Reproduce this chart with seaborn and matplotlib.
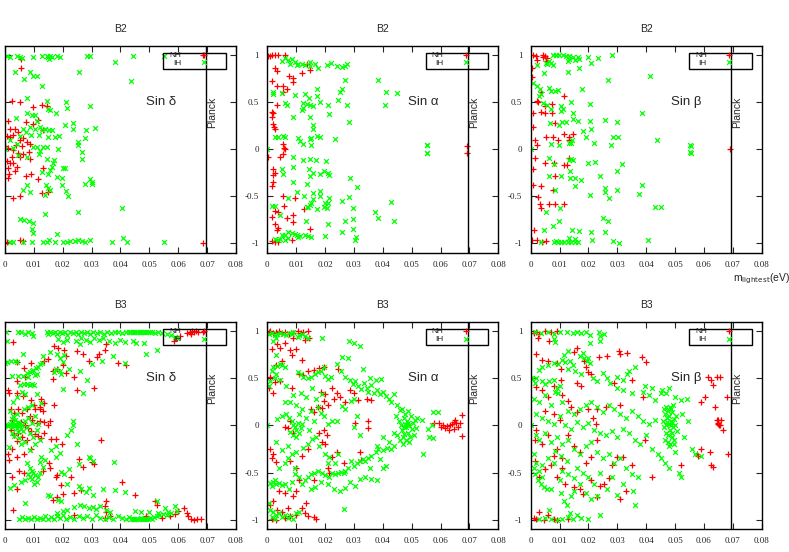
import matplotlib
matplotlib.use("Agg")
import matplotlib.pyplot as plt
import matplotlib.patches as mpatches
import seaborn as sns
import pandas as pd

sns.set_style("ticks")
plt.rcParams["font.family"] = ["Liberation Sans", "DejaVu Sans"]

# m_lightest (eV) vs sine of phase, NH = red +, IH = green x
b2_delta_nh = [
    (0.0054, 0.955), (0.0054, 0.86), (0.0023, 0.515), (0.0052, 0.505), (0.0096, 0.445),
    (0.0127, 0.465), (0.0144, 0.46), (0.0116, 0.31), (0.0012, 0.30), (0.0072, 0.29),
    (0.0098, 0.265), (0.0133, 0.20), (0.0035, 0.22), (0.0017, 0.21), (0.0046, 0.185),
    (0.0029, 0.15), (0.0006, 0.14), (0.0017, 0.125), (0.0052, 0.10), (0.0061, 0.115),
    (0.0075, 0.08), (0.0087, 0.06), (0.0038, 0.045), (0.0058, 0.03), (0.0, 0.03),
    (0.0012, 0.01), (0.0027, -0.01), (0.0046, -0.04), (0.0064, -0.05), (0.0084, -0.025),
    (0.0023, -0.08), (0.0052, -0.085), (0.0087, -0.10), (0.0006, -0.13), (0.0017, -0.15),
    (0.0029, -0.145), (0.0012, -0.20), (0.0040, -0.19), (0.0015, -0.26), (0.0012, -0.31),
    (0.0035, -0.23), (0.0072, -0.285), (0.0089, -0.26), (0.0133, -0.195), (0.0116, -0.32),
    (0.0150, -0.45), (0.0127, -0.47), (0.0052, -0.50), (0.0027, -0.52), (0.0052, -0.96),
    (0.0061, -0.98), (0.0006, -0.99), (0.0687, -1.0), (0.0687, 1.0),
]
b2_delta_ih = [
    (0.0006, 0.99), (0.0017, 0.98), (0.0043, 0.99), (0.0052, 0.98), (0.0058, 0.97),
    (0.0098, 0.98), (0.0127, 0.99), (0.0144, 0.99), (0.0150, 0.98), (0.0156, 0.99),
    (0.0162, 0.98), (0.0180, 0.99), (0.0190, 0.98), (0.0283, 0.99), (0.0294, 0.99),
    (0.0445, 0.99), (0.0549, 0.99), (0.0152, 0.955), (0.0035, 0.82), (0.0087, 0.82),
    (0.0098, 0.78), (0.0110, 0.78), (0.0066, 0.75), (0.0127, 0.67), (0.0258, 0.82),
    (0.0381, 0.93), (0.0435, 0.72), (0.0077, 0.54), (0.0144, 0.515), (0.0211, 0.505),
    (0.0214, 0.44), (0.0294, 0.46), (0.0150, 0.43), (0.0156, 0.415), (0.0177, 0.39),
    (0.0077, 0.38), (0.0092, 0.36), (0.0038, 0.33), (0.0104, 0.36), (0.0110, 0.30),
    (0.0234, 0.28), (0.0208, 0.255), (0.0237, 0.22), (0.0312, 0.23), (0.0280, 0.20),
    (0.0064, 0.21), (0.0072, 0.185), (0.0087, 0.24), (0.0104, 0.22), (0.0121, 0.24),
    (0.0127, 0.20), (0.0139, 0.22), (0.0154, 0.20), (0.0162, 0.20), (0.0173, 0.13),
    (0.0188, 0.14), (0.0150, 0.13), (0.0052, 0.14), (0.0089, 0.15), (0.0119, 0.15),
    (0.0277, 0.115), (0.0254, 0.08), (0.0254, 0.045), (0.0017, 0.10), (0.0040, 0.06),
    (0.0027, 0.01), (0.0, 0.0), (0.0098, 0.02), (0.0112, 0.02), (0.0133, 0.02),
    (0.0144, 0.02), (0.0121, -0.015), (0.0119, -0.05), (0.0185, 0.0), (0.0266, -0.035),
    (0.0266, -0.10), (0.0046, -0.06), (0.0075, -0.08), (0.0144, -0.10), (0.0171, -0.12),
    (0.0168, -0.15), (0.0162, -0.19), (0.0156, -0.22), (0.0202, -0.20), (0.0208, -0.20),
    (0.0127, -0.24), (0.0150, -0.26), (0.0179, -0.30), (0.0196, -0.31), (0.0294, -0.32),
    (0.0303, -0.345), (0.0303, -0.37), (0.0277, -0.37), (0.0196, -0.38), (0.0075, -0.38),
    (0.0141, -0.38), (0.0150, -0.415), (0.0156, -0.43), (0.0064, -0.43), (0.0087, -0.45),
    (0.0139, -0.49), (0.0219, -0.50), (0.0211, -0.44), (0.0254, -0.67), (0.0404, -0.63),
    (0.0139, -0.69), (0.0052, -0.745), (0.0066, -0.75), (0.0084, -0.76), (0.0096, -0.78),
    (0.0092, -0.85), (0.0098, -0.89), (0.0181, -0.905), (0.0154, -0.96), (0.0294, -0.96),
    (0.0410, -0.94), (0.0017, -0.99), (0.0027, -0.99), (0.0064, -0.99), (0.0095, -0.99),
    (0.0133, -0.99), (0.0144, -0.99), (0.0173, -0.99), (0.0202, -0.99), (0.0214, -0.99),
    (0.0225, -0.98), (0.0243, -0.98), (0.0254, -0.97), (0.0266, -0.98), (0.0277, -0.99),
    (0.0370, -0.99), (0.0422, -0.99), (0.0549, -0.99),
]

b2_alpha_nh = [
    (0.0003, 0.99), (0.0015, 1.0), (0.0027, 1.0), (0.0038, 1.0), (0.0061, 1.0), (0.0009, 0.99),
    (0.0136, 0.91), (0.0148, 0.84), (0.0119, 0.805), (0.0027, 0.86), (0.0035, 0.83),
    (0.0076, 0.78), (0.0090, 0.76), (0.0015, 0.73), (0.0088, 0.71), (0.0035, 0.67),
    (0.0053, 0.67), (0.0069, 0.635), (0.0055, 0.61), (0.0032, 0.47), (0.0015, 0.40),
    (0.0018, 0.38), (0.0015, 0.34), (0.0021, 0.265), (0.0023, 0.24), (0.0027, 0.21),
    (0.0053, 0.06), (0.0058, 0.01), (0.0062, 0.0), (0.0053, -0.05), (0.0044, -0.08),
    (0.0003, -0.08), (0.0018, -0.21), (0.0027, -0.25), (0.0021, -0.27), (0.0021, -0.345),
    (0.0015, -0.39), (0.0053, -0.50), (0.0096, -0.52), (0.0058, -0.60), (0.0027, -0.66),
    (0.0038, -0.67), (0.0015, -0.72), (0.0069, -0.73), (0.0090, -0.70), (0.0090, -0.77),
    (0.0027, -0.79), (0.0032, -0.86), (0.0038, -0.84), (0.0148, -0.85), (0.0127, -0.64),
    (0.0015, -0.98), (0.0027, -0.985), (0.0038, -0.99), (0.0084, -0.97), (0.0693, 0.03),
    (0.0693, -0.04),
]
b2_alpha_ih = [
    (0.0050, 0.94), (0.0061, 0.965), (0.0073, 0.947), (0.0084, 0.954), (0.0096, 0.93),
    (0.0107, 0.91), (0.0119, 0.91), (0.0130, 0.89), (0.0148, 0.93), (0.0165, 0.91),
    (0.0079, 0.91), (0.0102, 0.89), (0.0206, 0.90), (0.0219, 0.92), (0.0240, 0.887),
    (0.0258, 0.87), (0.0269, 0.883), (0.0277, 0.91), (0.0177, 0.86), (0.0148, 0.883),
    (0.0269, 0.735), (0.0385, 0.735), (0.0171, 0.645), (0.0258, 0.635), (0.0252, 0.61),
    (0.0411, 0.61), (0.0448, 0.60), (0.0021, 0.61), (0.0018, 0.59), (0.0050, 0.60),
    (0.0096, 0.575), (0.0130, 0.59), (0.0173, 0.565), (0.0145, 0.54), (0.0182, 0.505),
    (0.0246, 0.52), (0.0122, 0.495), (0.0136, 0.48), (0.0148, 0.47), (0.0159, 0.46),
    (0.0061, 0.495), (0.0067, 0.47), (0.0211, 0.47), (0.0277, 0.47), (0.0408, 0.47),
    (0.0125, 0.435), (0.0119, 0.415), (0.0215, 0.375), (0.0090, 0.34), (0.0148, 0.345),
    (0.0284, 0.29), (0.0157, 0.255), (0.0159, 0.21), (0.0027, 0.125), (0.0038, 0.13),
    (0.0053, 0.14), (0.0061, 0.125), (0.0107, 0.115), (0.0113, 0.09), (0.0125, 0.055),
    (0.0148, 0.105), (0.0153, 0.115), (0.0150, 0.05), (0.0171, 0.14), (0.0181, 0.125),
    (0.0234, 0.105), (0.0, 0.0), (0.0090, -0.085), (0.0125, -0.12), (0.0148, -0.10),
    (0.0169, -0.115), (0.0203, -0.13), (0.0050, -0.215), (0.0053, -0.26), (0.0090, -0.19),
    (0.0145, -0.215), (0.0159, -0.255), (0.0148, -0.285), (0.0181, -0.265), (0.0196, -0.23),
    (0.0215, -0.275), (0.0211, -0.25), (0.0286, -0.31), (0.0310, -0.40), (0.0090, -0.345),
    (0.0136, -0.37), (0.0102, -0.45), (0.0157, -0.47), (0.0127, -0.495), (0.0182, -0.44),
    (0.0182, -0.495), (0.0284, -0.505), (0.0215, -0.52), (0.0159, -0.53), (0.0153, -0.57),
    (0.0199, -0.575), (0.0211, -0.57), (0.0196, -0.61), (0.0206, -0.62), (0.0142, -0.61),
    (0.0148, -0.59), (0.0136, -0.61), (0.0173, -0.64), (0.0258, -0.55), (0.0298, -0.63),
    (0.0015, -0.60), (0.0027, -0.60), (0.0073, -0.52), (0.0044, -0.70), (0.0373, -0.67),
    (0.0427, -0.565), (0.0385, -0.735), (0.0439, -0.76), (0.0298, -0.745), (0.0269, -0.76),
    (0.0211, -0.80), (0.0134, -0.76), (0.0258, -0.885), (0.0298, -0.85), (0.0307, -0.93),
    (0.0303, -0.965), (0.0200, -0.92), (0.0050, -0.91), (0.0061, -0.91), (0.0073, -0.885),
    (0.0084, -0.89), (0.0096, -0.90), (0.0102, -0.91), (0.0113, -0.92), (0.0130, -0.91),
    (0.0142, -0.92), (0.0153, -0.93), (0.0027, -0.95), (0.0038, -0.97), (0.0044, -0.95),
    (0.0061, -0.96), (0.0073, -0.94), (0.0107, -0.93), (0.0552, 0.04), (0.0552, -0.045),
    (0.0554, 0.045), (0.0554, -0.04),
]

b2_beta_nh = [
    (0.0008, 1.0), (0.0018, 0.99), (0.0041, 1.0), (0.0050, 0.99), (0.0058, 0.965),
    (0.0041, 0.975), (0.0023, 0.945), (0.0053, 0.94), (0.0006, 0.86), (0.0006, 0.77),
    (0.0035, 0.61), (0.0023, 0.51), (0.0027, 0.50), (0.0074, 0.485), (0.0050, 0.455),
    (0.0117, 0.565), (0.0008, 0.385), (0.0035, 0.395), (0.0050, 0.385), (0.0074, 0.385),
    (0.0008, 0.235), (0.0085, 0.28), (0.0053, 0.135), (0.0076, 0.135), (0.0117, 0.165),
    (0.0146, 0.16), (0.0134, 0.135), (0.0093, 0.095), (0.0132, 0.095), (0.0015, 0.095),
    (0.0023, 0.04), (0.0015, -0.09), (0.0134, -0.09), (0.0050, -0.145), (0.0082, -0.145),
    (0.0117, -0.17), (0.0125, -0.17), (0.0008, -0.21), (0.0085, -0.29), (0.0008, -0.385),
    (0.0035, -0.395), (0.0076, -0.43), (0.0027, -0.51), (0.0032, -0.58), (0.0035, -0.62),
    (0.0064, -0.58), (0.0085, -0.58), (0.0117, -0.58), (0.0012, -0.86), (0.0006, -0.965),
    (0.0023, -0.96), (0.0039, -0.99), (0.0053, -0.98), (0.0690, 0.0),
]
b2_beta_ih = [
    (0.0076, 1.0), (0.0088, 1.0), (0.0099, 1.0), (0.0111, 1.0), (0.0123, 0.99),
    (0.0134, 0.99), (0.0146, 0.98), (0.0164, 0.98), (0.0199, 0.98), (0.0234, 0.97),
    (0.0280, 1.0), (0.0064, 0.94), (0.0053, 0.92), (0.0070, 0.92), (0.0134, 0.955),
    (0.0152, 0.95), (0.0169, 0.955), (0.0129, 0.94), (0.0210, 0.92), (0.0076, 0.89),
    (0.0023, 0.89), (0.0058, 0.91), (0.0047, 0.805), (0.0129, 0.82), (0.0167, 0.86),
    (0.0269, 0.74), (0.0412, 0.78), (0.0008, 0.70), (0.0023, 0.67), (0.0032, 0.645),
    (0.0064, 0.655), (0.0070, 0.62), (0.0085, 0.62), (0.0093, 0.625), (0.0179, 0.645),
    (0.0035, 0.585), (0.0029, 0.565), (0.0043, 0.49), (0.0058, 0.465), (0.0070, 0.43),
    (0.0105, 0.455), (0.0111, 0.425), (0.0105, 0.405), (0.0140, 0.50), (0.0148, 0.385),
    (0.0205, 0.48), (0.0386, 0.385), (0.0067, 0.28), (0.0097, 0.26), (0.0109, 0.29),
    (0.0123, 0.29), (0.0146, 0.325), (0.0164, 0.305), (0.0205, 0.305), (0.0257, 0.315),
    (0.0298, 0.29), (0.0181, 0.195), (0.0208, 0.21), (0.0193, 0.135), (0.0284, 0.135),
    (0.0304, 0.13), (0.0144, 0.10), (0.0132, 0.065), (0.0140, 0.065), (0.0070, 0.06),
    (0.0097, 0.04), (0.0218, 0.065), (0.0277, 0.05), (0.0436, 0.10), (0.0, 0.0),
    (0.0064, -0.095), (0.0082, -0.155), (0.0132, -0.11), (0.0140, -0.10), (0.0146, -0.12),
    (0.0199, -0.145), (0.0222, -0.135), (0.0315, -0.155), (0.0064, -0.29), (0.0105, -0.28),
    (0.0137, -0.235), (0.0137, -0.31), (0.0155, -0.31), (0.0175, -0.325), (0.0240, -0.285),
    (0.0298, -0.235), (0.0152, -0.39), (0.0085, -0.43), (0.0257, -0.415), (0.0257, -0.455),
    (0.0298, -0.43), (0.0207, -0.485), (0.0272, -0.515), (0.0386, -0.385), (0.0374, -0.48),
    (0.0102, -0.62), (0.0053, -0.67), (0.0249, -0.73), (0.0269, -0.765), (0.0097, -0.76),
    (0.0076, -0.82), (0.0429, -0.61), (0.0452, -0.615), (0.0047, -0.86), (0.0144, -0.855),
    (0.0169, -0.865), (0.0210, -0.88), (0.0257, -0.88), (0.0134, -0.945), (0.0152, -0.955),
    (0.0214, -0.965), (0.0286, -0.98), (0.0307, -0.995), (0.0405, -0.965), (0.0035, -0.99),
    (0.0082, -0.99), (0.0093, -0.99), (0.0105, -0.99), (0.0117, -0.99), (0.0128, -0.99),
    (0.0140, -0.99), (0.0152, -0.99), (0.0164, -0.99), (0.0088, -0.98), (0.0555, 0.035),
    (0.0555, -0.04), (0.0553, 0.04), (0.0553, -0.035),
]

b3_delta_nh = [
    (0.0606, 0.95), (0.0595, 0.93), (0.0585, 0.90), (0.0630, 0.98), (0.0640, 0.995),
    (0.0648, 1.0), (0.0655, 0.995), (0.0662, 1.0), (0.0670, 0.99), (0.0685, 0.99),
    (0.0645, 0.97), (0.0029, 0.89), (0.0043, 0.67), (0.0350, 0.87), (0.0346, 0.80),
    (0.0318, 0.73), (0.0290, 0.69), (0.0390, 0.66), (0.0420, 0.645), (0.0325, 0.76),
    (0.0270, 0.76), (0.0250, 0.79), (0.0170, 0.84), (0.0185, 0.82), (0.0205, 0.80),
    (0.0210, 0.74), (0.0150, 0.71), (0.0135, 0.69), (0.0165, 0.58), (0.0180, 0.60),
    (0.0200, 0.64), (0.0210, 0.56), (0.0240, 0.52), (0.0250, 0.38), (0.0310, 0.40),
    (0.0065, 0.61), (0.0090, 0.66), (0.0040, 0.47), (0.0070, 0.52), (0.0165, 0.49),
    (0.0170, 0.22), (0.0120, 0.20), (0.0012, 0.38), (0.0015, 0.34), (0.0040, 0.35),
    (0.0064, 0.31), (0.0090, 0.27), (0.0100, 0.22), (0.0125, 0.28), (0.0135, 0.24),
    (0.0105, 0.18), (0.0120, 0.17), (0.0130, 0.15), (0.0020, 0.17), (0.0030, 0.13),
    (0.0045, 0.18), (0.0060, 0.13), (0.0075, 0.17), (0.0085, 0.10), (0.0095, 0.06),
    (0.0110, 0.03), (0.0120, 0.05), (0.0135, 0.04), (0.0150, 0.01), (0.0025, 0.06),
    (0.0040, -0.01), (0.0055, 0.04), (0.0070, 0.0), (0.0080, -0.03), (0.0090, -0.06),
    (0.0105, -0.09), (0.0115, -0.11), (0.0125, -0.13), (0.0135, -0.08), (0.0020, -0.05),
    (0.0030, -0.10), (0.0045, -0.08), (0.0060, -0.12), (0.0075, -0.15), (0.0010, -0.30),
    (0.0015, -0.37), (0.0025, -0.25), (0.0040, -0.34), (0.0065, -0.30), (0.0090, -0.25),
    (0.0040, -0.17), (0.0050, -0.48), (0.0025, -0.55), (0.0065, -0.50), (0.0040, -0.67),
    (0.0130, -0.48), (0.0152, -0.40), (0.0160, -0.14), (0.0155, 0.05), (0.0176, -0.14),
    (0.0196, -0.20), (0.0255, -0.36), (0.0270, -0.44), (0.0300, -0.39), (0.0310, -0.41),
    (0.0333, -0.15), (0.0180, -0.53), (0.0155, -0.45), (0.0175, -0.55), (0.0195, -0.63),
    (0.0230, -0.55), (0.0240, -0.72), (0.0265, -0.69), (0.0200, -0.73), (0.0180, -0.76),
    (0.0165, -0.79), (0.0405, -0.60), (0.0450, -0.74), (0.0350, -0.80), (0.0345, -0.86),
    (0.0350, -0.92), (0.0365, -0.96), (0.0345, -0.98), (0.0029, -0.90), (0.0240, -0.95),
    (0.0490, -0.96), (0.0520, -0.80), (0.0525, -0.84), (0.0545, -0.98), (0.0570, -0.96),
    (0.0590, -0.94), (0.0600, -0.91), (0.0620, -0.88), (0.0630, -0.93), (0.0635, -0.96),
    (0.0645, -0.99), (0.0655, -1.0), (0.0665, -0.995), (0.0680, -0.99),
]
b3_delta_ih = [
    (0.0005, 0.99), (0.0046, 0.99), (0.0055, 0.995), (0.0069, 0.97), (0.0080, 0.99),
    (0.0092, 0.98), (0.0098, 0.95), (0.0144, 0.99), (0.0150, 0.97), (0.0156, 0.99),
    (0.0165, 0.98), (0.0173, 0.99), (0.0180, 0.97), (0.0190, 0.99), (0.0198, 0.98),
    (0.0208, 0.99), (0.0216, 0.96), (0.0225, 0.99), (0.0235, 0.98), (0.0245, 0.99),
    (0.0254, 0.97), (0.0265, 0.99), (0.0274, 0.98), (0.0283, 0.99), (0.0295, 0.97),
    (0.0305, 0.99), (0.0318, 0.98), (0.0330, 0.99), (0.0342, 0.97), (0.0355, 0.99),
    (0.0368, 0.98), (0.0380, 0.99), (0.0392, 0.99), (0.0405, 0.98), (0.0418, 0.99),
    (0.0428, 0.99), (0.0436, 0.995), (0.0442, 0.99), (0.0448, 0.995), (0.0455, 0.99),
    (0.0460, 0.995), (0.0466, 0.99), (0.0472, 0.995), (0.0478, 0.99), (0.0484, 0.995),
    (0.0490, 0.99), (0.0496, 0.995), (0.0502, 0.99), (0.0510, 0.99), (0.0520, 0.98),
    (0.0530, 0.99), (0.0545, 0.98), (0.0560, 0.97), (0.0575, 0.96), (0.0588, 0.94),
    (0.0595, 0.93), (0.0480, 0.88), (0.0525, 0.80), (0.0490, 0.76), (0.0185, 0.92),
    (0.0200, 0.89), (0.0215, 0.91), (0.0245, 0.90), (0.0260, 0.87), (0.0265, 0.93),
    (0.0280, 0.91), (0.0295, 0.89), (0.0310, 0.93), (0.0325, 0.91), (0.0340, 0.93),
    (0.0360, 0.90), (0.0380, 0.88), (0.0400, 0.91), (0.0415, 0.89), (0.0445, 0.90),
    (0.0455, 0.88), (0.0, 0.66), (0.0006, 0.67), (0.0020, 0.68), (0.0035, 0.68),
    (0.0041, 0.67), (0.0006, 0.90), (0.0064, 0.76), (0.0023, 0.53), (0.0046, 0.53),
    (0.0064, 0.53), (0.0075, 0.56), (0.0085, 0.57), (0.0092, 0.58), (0.0098, 0.59),
    (0.0107, 0.61), (0.0115, 0.62), (0.0120, 0.65), (0.0127, 0.66), (0.0104, 0.54),
    (0.0110, 0.55), (0.0080, 0.52), (0.0133, 0.74), (0.0156, 0.78), (0.0180, 0.76),
    (0.0190, 0.72), (0.0205, 0.75), (0.0200, 0.67), (0.0222, 0.60), (0.0175, 0.60),
    (0.0190, 0.58), (0.0195, 0.55), (0.0170, 0.57), (0.0260, 0.58), (0.0283, 0.48),
    (0.0270, 0.34), (0.0200, 0.39), (0.0375, 0.74), (0.0416, 0.66), (0.0335, 0.69),
    (0.0300, 0.65), (0.0052, 0.43), (0.0066, 0.44), (0.0075, 0.44), (0.0085, 0.43),
    (0.0092, 0.44), (0.0100, 0.43), (0.0058, 0.36), (0.0040, 0.30), (0.0069, 0.33),
    (0.0110, 0.33), (0.0125, 0.24), (0.0, 0.0), (0.0006, 0.01), (0.0012, -0.01),
    (0.0017, 0.02), (0.0020, 0.0), (0.0023, -0.02), (0.0026, 0.03), (0.0029, 0.01),
    (0.0032, -0.01), (0.0035, 0.02), (0.0038, 0.0), (0.0041, -0.03), (0.0044, 0.04),
    (0.0047, 0.01), (0.0050, -0.01), (0.0053, 0.03), (0.0056, -0.04), (0.0060, 0.0),
    (0.0023, 0.07), (0.0029, 0.10), (0.0035, 0.06), (0.0041, 0.12), (0.0017, 0.15),
    (0.0023, -0.08), (0.0032, -0.11), (0.0044, -0.07), (0.0050, -0.13), (0.0064, -0.06),
    (0.0070, 0.05), (0.0075, -0.02), (0.0080, 0.08), (0.0087, -0.08), (0.0092, 0.03),
    (0.0098, -0.12), (0.0104, 0.10), (0.0110, -0.05), (0.0115, 0.02), (0.0065, 0.18),
    (0.0080, 0.20), (0.0092, 0.22), (0.0055, -0.20), (0.0070, -0.18), (0.0085, -0.26),
    (0.0027, 0.25), (0.0015, -0.23), (0.0105, -0.20), (0.0120, -0.15), (0.0237, 0.05),
    (0.0237, 0.0), (0.0230, -0.05), (0.0215, -0.10), (0.0250, -0.20), (0.0175, -0.22),
    (0.0160, -0.26), (0.0190, -0.29), (0.0175, -0.33), (0.0125, -0.33), (0.0138, -0.37),
    (0.0195, -0.49), (0.0205, -0.52), (0.0220, -0.46), (0.0255, -0.41), (0.0305, -0.38),
    (0.0376, -0.39), (0.0290, -0.33), (0.0295, -0.35), (0.0075, -0.40), (0.0085, -0.45),
    (0.0092, -0.48), (0.0098, -0.50), (0.0105, -0.53), (0.0115, -0.55), (0.0080, -0.52),
    (0.0088, -0.55), (0.0095, -0.57), (0.0110, -0.60), (0.0100, -0.62), (0.0070, -0.58),
    (0.0055, -0.60), (0.0030, -0.63), (0.0017, -0.66), (0.0122, -0.50), (0.0133, -0.44),
    (0.0120, -0.39), (0.0150, -0.74), (0.0155, -0.75), (0.0070, -0.82), (0.0185, -0.79),
    (0.0195, -0.80), (0.0265, -0.67), (0.0290, -0.66), (0.0340, -0.67), (0.0380, -0.69),
    (0.0416, -0.71), (0.0280, -0.71), (0.0255, -0.64), (0.0215, -0.62), (0.0305, -0.74),
    (0.0525, -0.80), (0.0590, -0.86), (0.0555, -0.88), (0.0565, -0.92), (0.0240, -0.87),
    (0.0260, -0.85), (0.0275, -0.86), (0.0290, -0.88), (0.0305, -0.87), (0.0315, -0.89),
    (0.0330, -0.86), (0.0350, -0.90), (0.0365, -0.92), (0.0200, -0.91), (0.0215, -0.90),
    (0.0180, -0.93), (0.0450, -0.91), (0.0470, -0.92), (0.0500, -0.92), (0.0530, -0.93),
    (0.0050, -0.99), (0.0060, -0.97), (0.0070, -0.99), (0.0080, -0.98), (0.0090, -0.99),
    (0.0100, -0.97), (0.0110, -0.99), (0.0120, -0.98), (0.0130, -0.99), (0.0140, -0.96),
    (0.0150, -0.99), (0.0160, -0.97), (0.0170, -0.99), (0.0180, -0.96), (0.0190, -0.98),
    (0.0200, -0.95), (0.0210, -0.99), (0.0225, -0.97), (0.0240, -0.99), (0.0255, -0.96),
    (0.0270, -0.98), (0.0285, -0.96), (0.0300, -0.99), (0.0315, -0.95), (0.0330, -0.98),
    (0.0345, -0.99), (0.0360, -0.97), (0.0375, -0.99), (0.0390, -0.96), (0.0405, -0.98),
    (0.0418, -0.99), (0.0428, -0.97), (0.0436, -0.99), (0.0442, -0.995), (0.0448, -0.99),
    (0.0454, -0.995), (0.0460, -0.99), (0.0466, -0.995), (0.0472, -0.985), (0.0478, -0.995),
    (0.0484, -0.99), (0.0490, -0.995), (0.0496, -0.99), (0.0502, -0.985), (0.0508, -0.995),
    (0.0515, -0.97), (0.0525, -0.96), (0.0535, -0.95), (0.0548, -0.94), (0.0560, -0.95),
    (0.0575, -0.93), (0.0595, -0.91),
]

b3_alpha_nh = [
    (0.0005, 0.99), (0.0010, 1.0), (0.0020, 0.98), (0.0030, 0.99), (0.0040, 1.0),
    (0.0050, 0.98), (0.0060, 0.99), (0.0075, 0.97), (0.0090, 0.98), (0.0105, 1.0),
    (0.0115, 0.98), (0.0125, 0.99), (0.0140, 1.0), (0.0145, 0.93), (0.0130, 0.91),
    (0.0090, 0.93), (0.0060, 0.88), (0.0035, 0.87), (0.0015, 0.81), (0.0045, 0.82),
    (0.0080, 0.80), (0.0100, 0.81), (0.0085, 0.75), (0.0120, 0.70), (0.0050, 0.68),
    (0.0030, 0.64), (0.0010, 0.52), (0.0025, 0.46), (0.0045, 0.47), (0.0005, 0.40),
    (0.0020, 0.34), (0.0085, 0.40), (0.0110, 0.55), (0.0125, 0.54), (0.0140, 0.58),
    (0.0160, 0.59), (0.0180, 0.61), (0.0195, 0.62), (0.0245, 0.60), (0.0185, 0.36),
    (0.0200, 0.33), (0.0195, 0.26), (0.0210, 0.22), (0.0230, 0.28), (0.0250, 0.30),
    (0.0270, 0.25), (0.0285, 0.38), (0.0300, 0.35), (0.0315, 0.27), (0.0345, 0.28),
    (0.0360, 0.27), (0.0160, 0.14), (0.0175, 0.20), (0.0190, 0.19), (0.0150, 0.17),
    (0.0225, 0.40), (0.0240, 0.35), (0.0350, 0.05), (0.0350, -0.03), (0.0305, 0.03),
    (0.0080, 0.05), (0.0070, -0.03), (0.0090, -0.08), (0.0060, -0.02), (0.0010, -0.25),
    (0.0020, -0.30), (0.0015, -0.35), (0.0030, -0.39), (0.0080, -0.38), (0.0120, -0.32),
    (0.0140, -0.25), (0.0190, -0.18), (0.0200, -0.20), (0.0205, -0.10), (0.0195, -0.05),
    (0.0180, -0.08), (0.0225, -0.33), (0.0240, -0.28), (0.0265, -0.40), (0.0215, -0.50),
    (0.0210, -0.45), (0.0160, -0.58), (0.0100, -0.45), (0.0110, -0.58), (0.0060, -0.72),
    (0.0100, -0.70), (0.0090, -0.75), (0.0040, -0.70), (0.0020, -0.80), (0.0010, -0.85),
    (0.0035, -0.90), (0.0050, -0.92), (0.0070, -0.88), (0.0015, -0.99), (0.0030, -1.0),
    (0.0060, -0.98), (0.0080, -0.96), (0.0100, -0.95), (0.0120, -0.88), (0.0130, -0.93),
    (0.0140, -0.96), (0.0160, -0.97), (0.0170, -0.99), (0.0135, -0.82), (0.0325, -0.37),
    (0.0320, -0.28), (0.0577, 0.03), (0.0594, 0.03), (0.0610, 0.01), (0.0622, -0.01),
    (0.0632, 0.0), (0.0638, 0.02), (0.0645, 0.04), (0.0655, 0.03), (0.0660, -0.02),
    (0.0668, 0.03), (0.0675, 0.11), (0.0675, -0.11), (0.0645, -0.04), (0.0630, -0.05),
    (0.0615, -0.03), (0.0600, -0.02), (0.0650, 0.06),
]
b3_alpha_ih = [
    (0.0005, 0.97), (0.0015, 0.98), (0.0025, 0.96), (0.0035, 0.97), (0.0045, 0.98),
    (0.0055, 0.97), (0.0065, 0.96), (0.0075, 0.98), (0.0085, 0.97), (0.0090, 0.99),
    (0.0110, 0.96), (0.0120, 0.97), (0.0130, 0.95), (0.0140, 0.93), (0.0030, 0.93),
    (0.0020, 0.90), (0.0105, 0.94), (0.0188, 0.93), (0.0282, 0.90), (0.0300, 0.88),
    (0.0320, 0.84), (0.0030, 0.75), (0.0045, 0.65), (0.0020, 0.62), (0.0035, 0.63),
    (0.0050, 0.64), (0.0060, 0.62), (0.0015, 0.58), (0.0010, 0.47), (0.0025, 0.50),
    (0.0005, 0.42), (0.0105, 0.57), (0.0115, 0.55), (0.0125, 0.52), (0.0140, 0.50),
    (0.0150, 0.51), (0.0165, 0.55), (0.0175, 0.57), (0.0185, 0.58), (0.0195, 0.62),
    (0.0200, 0.53), (0.0210, 0.49), (0.0220, 0.51), (0.0240, 0.65), (0.0260, 0.73),
    (0.0280, 0.72), (0.0255, 0.58), (0.0270, 0.52), (0.0285, 0.48), (0.0295, 0.44),
    (0.0305, 0.47), (0.0315, 0.42), (0.0325, 0.39), (0.0335, 0.45), (0.0345, 0.40),
    (0.0355, 0.50), (0.0360, 0.43), (0.0370, 0.35), (0.0380, 0.38), (0.0390, 0.33),
    (0.0400, 0.36), (0.0410, 0.31), (0.0420, 0.28), (0.0430, 0.25), (0.0440, 0.33),
    (0.0450, 0.22), (0.0460, 0.16), (0.0330, 0.60), (0.0375, 0.48), (0.0395, 0.49),
    (0.0350, 0.36), (0.0300, 0.28), (0.0290, 0.26), (0.0035, 0.07), (0.0050, 0.10),
    (0.0065, 0.12), (0.0075, 0.08), (0.0085, 0.05), (0.0090, 0.0), (0.0095, -0.02),
    (0.0100, -0.05), (0.0105, 0.03), (0.0110, -0.08), (0.0115, -0.03), (0.0120, 0.02),
    (0.0080, -0.07), (0.0090, -0.10), (0.0100, -0.12), (0.0110, 0.12), (0.0120, 0.18),
    (0.0100, 0.22), (0.0080, 0.25), (0.0060, 0.25), (0.0135, 0.08), (0.0145, -0.05),
    (0.0150, 0.15), (0.0160, 0.05), (0.0175, 0.20), (0.0185, 0.13), (0.0195, 0.10),
    (0.0210, 0.02), (0.0225, 0.05), (0.0240, 0.05), (0.0260, 0.21), (0.0270, 0.18),
    (0.0310, 0.10), (0.0320, -0.10), (0.0300, -0.02), (0.0170, -0.12), (0.0155, -0.14),
    (0.0140, -0.20), (0.0125, -0.24), (0.0100, -0.28), (0.0085, -0.30), (0.0070, -0.22),
    (0.0050, -0.26), (0.0030, -0.18), (0.0, 0.0), (0.0455, 0.05), (0.0462, 0.0),
    (0.0468, -0.05), (0.0472, 0.08), (0.0476, 0.02), (0.0480, -0.02), (0.0484, 0.05),
    (0.0488, -0.08), (0.0492, 0.0), (0.0496, 0.10), (0.0500, -0.04), (0.0504, 0.03),
    (0.0508, -0.10), (0.0478, 0.12), (0.0486, 0.15), (0.0470, -0.12), (0.0480, -0.15),
    (0.0490, -0.18), (0.0470, -0.20), (0.0460, -0.15), (0.0450, -0.10), (0.0465, 0.18),
    (0.0475, -0.09), (0.0495, -0.12), (0.0483, 0.0), (0.0487, 0.03), (0.0473, -0.02),
    (0.0510, 0.06), (0.0515, -0.03), (0.0520, 0.08), (0.0440, -0.08), (0.0445, 0.10),
    (0.0575, 0.14), (0.0590, 0.14), (0.0570, 0.0), (0.0555, -0.04), (0.0560, -0.12),
    (0.0575, -0.13), (0.0540, -0.30), (0.0535, 0.06), (0.0440, -0.22), (0.0430, -0.25),
    (0.0415, -0.24), (0.0400, -0.26), (0.0385, -0.25), (0.0390, -0.36), (0.0375, -0.28),
    (0.0360, -0.32), (0.0350, -0.35), (0.0340, -0.38), (0.0330, -0.36), (0.0320, -0.38),
    (0.0310, -0.40), (0.0300, -0.43), (0.0290, -0.38), (0.0280, -0.45), (0.0270, -0.48),
    (0.0265, -0.50), (0.0255, -0.49), (0.0245, -0.50), (0.0235, -0.52), (0.0225, -0.50),
    (0.0215, -0.55), (0.0200, -0.53), (0.0190, -0.50), (0.0175, -0.48), (0.0160, -0.50),
    (0.0150, -0.52), (0.0140, -0.55), (0.0130, -0.58), (0.0120, -0.62), (0.0110, -0.55),
    (0.0095, -0.52), (0.0085, -0.60), (0.0075, -0.68), (0.0210, -0.62), (0.0230, -0.68),
    (0.0250, -0.70), (0.0270, -0.66), (0.0285, -0.60), (0.0305, -0.64), (0.0320, -0.57),
    (0.0340, -0.55), (0.0360, -0.57), (0.0380, -0.58), (0.0355, -0.45), (0.0400, -0.45),
    (0.0410, -0.43), (0.0200, -0.30), (0.0180, -0.22), (0.0215, -0.33), (0.0245, -0.30),
    (0.0235, -0.40), (0.0210, -0.40), (0.0265, -0.89), (0.0185, -0.60), (0.0165, -0.65),
    (0.0150, -0.68), (0.0420, -0.18), (0.0400, -0.12), (0.0380, -0.22), (0.0010, -0.61),
    (0.0020, -0.60), (0.0030, -0.62), (0.0040, -0.61), (0.0050, -0.63), (0.0060, -0.62),
    (0.0025, -0.58), (0.0015, -0.64), (0.0005, -0.82), (0.0010, -0.90), (0.0020, -0.92),
    (0.0030, -0.95), (0.0040, -0.93), (0.0050, -0.97), (0.0060, -0.95), (0.0070, -0.98),
    (0.0080, -0.96), (0.0090, -0.99), (0.0100, -0.93), (0.0110, -0.92), (0.0015, -0.97),
    (0.0025, -0.99), (0.0060, -0.40), (0.0040, -0.45), (0.0070, -0.35), (0.0095, -0.45),
    (0.0030, 0.55), (0.0045, 0.48), (0.0065, 0.42), (0.0115, 0.35), (0.0135, 0.30),
    (0.0155, 0.40), (0.0170, 0.28), (0.0190, 0.33), (0.0090, 0.32),
]

b3_beta_nh = [
    (0.0010, 0.98), (0.0020, 0.99), (0.0030, 0.97), (0.0050, 1.0), (0.0070, 0.99),
    (0.0090, 1.0), (0.0025, 0.93), (0.0065, 0.90), (0.0020, 0.76), (0.0040, 0.70),
    (0.0060, 0.68), (0.0090, 0.66), (0.0105, 0.60), (0.0160, 0.82), (0.0150, 0.78),
    (0.0185, 0.68), (0.0190, 0.62), (0.0200, 0.57), (0.0235, 0.73), (0.0265, 0.74),
    (0.0310, 0.76), (0.0305, 0.79), (0.0335, 0.77), (0.0385, 0.73), (0.0400, 0.67),
    (0.0350, 0.48), (0.0290, 0.45), (0.0210, 0.55), (0.0160, 0.45), (0.0175, 0.42),
    (0.0105, 0.48), (0.0080, 0.42), (0.0020, 0.41), (0.0040, 0.38), (0.0060, 0.30),
    (0.0110, 0.32), (0.0130, 0.26), (0.0140, 0.20), (0.0160, 0.14), (0.0200, 0.18),
    (0.0230, 0.18), (0.0260, 0.20), (0.0310, 0.22), (0.0390, 0.30), (0.0225, 0.02),
    (0.0215, 0.08), (0.0100, 0.06), (0.0080, 0.12), (0.0050, 0.15), (0.0020, -0.05),
    (0.0015, -0.15), (0.0040, -0.20), (0.0060, -0.10), (0.0090, -0.25), (0.0110, -0.35),
    (0.0130, -0.10), (0.0150, -0.22), (0.0170, -0.28), (0.0190, -0.40), (0.0210, -0.34),
    (0.0230, -0.15), (0.0280, -0.42), (0.0320, -0.33), (0.0350, -0.42), (0.0420, -0.55),
    (0.0330, -0.70), (0.0310, -0.78), (0.0255, -0.62), (0.0240, -0.64), (0.0210, -0.58),
    (0.0170, -0.68), (0.0150, -0.65), (0.0120, -0.62), (0.0090, -0.55), (0.0070, -0.42),
    (0.0050, -0.46), (0.0030, -0.55), (0.0015, -0.38), (0.0080, -0.32), (0.0110, -0.45),
    (0.0030, -0.92), (0.0060, -0.95), (0.0020, -0.99), (0.0010, -0.98), (0.0045, -1.0),
    (0.0080, -0.99), (0.0090, -1.0), (0.0130, -0.99), (0.0180, -0.73), (0.0230, -0.76),
    (0.0270, -0.56), (0.0300, -0.33), (0.0395, -0.15), (0.0520, -0.42), (0.0615, 0.52),
    (0.0625, 0.48), (0.0630, 0.43), (0.0645, 0.52), (0.0655, 0.51), (0.0680, 0.30),
    (0.0605, 0.30), (0.0590, 0.25), (0.0640, 0.20), (0.0645, 0.06), (0.0650, 0.03),
    (0.0655, 0.0), (0.0660, 0.06), (0.0652, 0.0), (0.0648, 0.02), (0.0665, -0.05),
    (0.0648, 0.06), (0.0685, -0.30), (0.0620, -0.28), (0.0590, -0.25), (0.0575, -0.30),
    (0.0625, -0.42), (0.0630, -0.44), (0.0580, -0.32),
]
b3_beta_ih = [
    (0.0015, 0.99), (0.0035, 0.98), (0.0060, 0.99), (0.0080, 0.97), (0.0100, 0.99),
    (0.0125, 0.99), (0.0145, 0.98), (0.0160, 0.99), (0.0175, 0.98), (0.0190, 0.99),
    (0.0205, 0.96), (0.0235, 0.99), (0.0240, 0.95), (0.0255, 0.97), (0.0240, 0.90),
    (0.0205, 0.88), (0.0080, 0.92), (0.0085, 0.89), (0.0130, 0.79), (0.0115, 0.75),
    (0.0170, 0.74), (0.0185, 0.72), (0.0195, 0.68), (0.0200, 0.72), (0.0205, 0.66),
    (0.0180, 0.77), (0.0110, 0.70), (0.0120, 0.67), (0.0135, 0.68), (0.0145, 0.64),
    (0.0080, 0.66), (0.0095, 0.65), (0.0060, 0.64), (0.0040, 0.62), (0.0030, 0.59),
    (0.0020, 0.50), (0.0, 0.50), (0.0005, 0.49), (0.0015, 0.45), (0.0040, 0.47),
    (0.0050, 0.44), (0.0065, 0.47), (0.0080, 0.48), (0.0090, 0.40), (0.0095, 0.35),
    (0.0100, 0.42), (0.0085, 0.36), (0.0130, 0.60), (0.0155, 0.58), (0.0175, 0.55),
    (0.0250, 0.56), (0.0215, 0.50), (0.0230, 0.47), (0.0265, 0.50), (0.0275, 0.45),
    (0.0300, 0.52), (0.0320, 0.48), (0.0340, 0.58), (0.0360, 0.62), (0.0335, 0.55),
    (0.0300, 0.40), (0.0320, 0.38), (0.0350, 0.35), (0.0390, 0.36), (0.0410, 0.32),
    (0.0430, 0.27), (0.0450, 0.35), (0.0455, 0.38), (0.0470, 0.34), (0.0480, 0.40),
    (0.0500, 0.30), (0.0520, 0.27), (0.0540, 0.28), (0.0395, 0.42), (0.0420, 0.40),
    (0.0010, 0.28), (0.0030, 0.25), (0.0050, 0.32), (0.0070, 0.22), (0.0110, 0.25),
    (0.0130, 0.15), (0.0150, 0.12), (0.0170, 0.18), (0.0190, 0.22), (0.0210, 0.25),
    (0.0230, 0.20), (0.0250, 0.14), (0.0270, 0.22), (0.0290, 0.18), (0.0310, 0.12),
    (0.0330, 0.08), (0.0350, 0.15), (0.0370, 0.10), (0.0390, 0.05), (0.0410, 0.02),
    (0.0430, 0.06), (0.0020, 0.12), (0.0040, 0.08), (0.0060, 0.05), (0.0080, 0.02),
    (0.0100, 0.10), (0.0120, 0.0), (0.0140, -0.04), (0.0160, 0.04), (0.0180, -0.02),
    (0.0200, 0.03), (0.0220, -0.05), (0.0240, -0.08), (0.0260, -0.10), (0.0280, -0.06),
    (0.0300, -0.12), (0.0320, -0.04), (0.0340, -0.08), (0.0360, -0.15), (0.0380, -0.20),
    (0.0400, -0.10), (0.0420, -0.25), (0.0440, -0.30), (0.0, 0.0), (0.0020, -0.10),
    (0.0030, -0.15), (0.0050, -0.08), (0.0070, -0.18), (0.0090, -0.12), (0.0110, -0.20),
    (0.0130, -0.15), (0.0150, -0.25), (0.0170, -0.30), (0.0190, -0.22), (0.0210, -0.18),
    (0.0230, -0.28), (0.0250, -0.35), (0.0270, -0.30), (0.0290, -0.40), (0.0310, -0.35),
    (0.0330, -0.45), (0.0350, -0.52), (0.0370, -0.55), (0.0265, -0.68), (0.0300, -0.74),
    (0.0355, -0.70), (0.0360, -0.85), (0.0230, -0.75), (0.0210, -0.78), (0.0190, -0.72),
    (0.0170, -0.62), (0.0150, -0.56), (0.0130, -0.52), (0.0110, -0.48), (0.0100, -0.58),
    (0.0080, -0.40), (0.0060, -0.35), (0.0040, -0.42), (0.0020, -0.40), (0.0010, -0.30),
    (0.0085, -0.27), (0.0105, -0.32), (0.0125, -0.38), (0.0160, -0.45), (0.0180, -0.50),
    (0.0200, -0.55), (0.0220, -0.62), (0.0240, -0.50), (0.0280, -0.55), (0.0320, -0.62),
    (0.0450, -0.35), (0.0465, -0.40), (0.0480, -0.45), (0.0500, -0.28), (0.0520, -0.55),
    (0.0515, -0.50), (0.0530, -0.12), (0.0560, -0.25), (0.0570, -0.30), (0.0590, -0.32),
    (0.0545, 0.05), (0.0525, 0.12), (0.0010, -0.45), (0.0015, -0.52), (0.0025, -0.58),
    (0.0035, -0.62), (0.0045, -0.65), (0.0055, -0.67), (0.0070, -0.68), (0.0040, -0.55),
    (0.0030, -0.48), (0.0105, -0.72), (0.0115, -0.80), (0.0125, -0.85), (0.0140, -0.75),
    (0.0150, -0.70), (0.0065, -0.90), (0.0030, -0.99), (0.0050, -0.98), (0.0070, -0.99),
    (0.0090, -1.0), (0.0110, -0.99), (0.0130, -0.97), (0.0145, -0.99), (0.0160, -0.95),
    (0.0175, -0.98), (0.0200, -0.99), (0.0135, -0.93), (0.0240, -0.95), (0.0460, 0.18),
    (0.0465, 0.12), (0.0470, 0.20), (0.0472, 0.08), (0.0475, 0.15), (0.0478, 0.02),
    (0.0480, 0.10), (0.0482, -0.05), (0.0485, 0.05), (0.0488, -0.12), (0.0490, 0.14),
    (0.0492, -0.02), (0.0495, 0.07), (0.0498, -0.15), (0.0500, 0.0), (0.0468, -0.08),
    (0.0474, -0.18), (0.0476, -0.10), (0.0484, -0.20), (0.0486, 0.17), (0.0490, -0.08),
    (0.0496, -0.20), (0.0462, -0.02), (0.0458, 0.05), (0.0470, 0.0), (0.0482, 0.20),
    (0.0494, 0.22), (0.0502, 0.10), (0.0505, -0.06), (0.0466, -0.15), (0.0480, -0.22),
    (0.0487, 0.0), (0.0473, 0.04), (0.0491, 0.03),
]

panels = [
    ("B2", "Sin δ", b2_delta_nh, b2_delta_ih),
    ("B2", "Sin α", b2_alpha_nh, b2_alpha_ih),
    ("B2", "Sin β", b2_beta_nh, b2_beta_ih),
    ("B3", "Sin δ", b3_delta_nh, b3_delta_ih),
    ("B3", "Sin α", b3_alpha_nh, b3_alpha_ih),
    ("B3", "Sin β", b3_beta_nh, b3_beta_ih),
]

planck_bound = 0.0695
x_ticks = [0, 0.01, 0.02, 0.03, 0.04, 0.05, 0.06, 0.07, 0.08]
x_tick_labels = ["0", "0.01", "0.02", "0.03", "0.04", "0.05", "0.06", "0.07", "0.08"]
y_ticks = [-1, -0.5, 0, 0.5, 1]
y_tick_labels = ["-1", "-0.5", "0", "0.5", "1"]

fig = plt.figure(figsize=(7.89, 5.52), dpi=100)
lefts = [0.0063, 0.3388, 0.6726]
bottoms = [0.5422, 0.0417]

for i, (title, label, nh, ih) in enumerate(panels):
    ax = fig.add_axes([lefts[i % 3], bottoms[i // 3], 0.2928, 0.375])
    df_nh = pd.DataFrame(nh, columns=["m", "s"])
    df_ih = pd.DataFrame(ih, columns=["m", "s"])
    sns.scatterplot(data=df_nh, x="m", y="s", marker="+", color="#ff0000",
                    s=22, linewidth=0.9, ax=ax, label="NH")
    sns.scatterplot(data=df_ih, x="m", y="s", marker="x", color="#00ff00",
                    s=12, linewidth=0.9, ax=ax, label="IH")
    ax.axvline(planck_bound, color="black", lw=1.0)
    ax.text(0.0716, 0.39, "Planck", rotation=90, ha="center", va="center", fontsize=7.5)
    ax.text(0.054, 0.5, label, ha="center", va="center", fontsize=9.5)

    ax.set_xlim(0, 0.08)
    ax.set_ylim(-1.1, 1.1)
    ax.set_xticks(x_ticks)
    ax.set_xticklabels(x_tick_labels, fontfamily="Liberation Serif", fontsize=6.5)
    ax.set_yticks(y_ticks)
    ax.set_yticklabels(y_tick_labels, fontfamily="Liberation Serif", fontsize=6.5)
    ax.tick_params(direction="in", length=4.2, width=0.8, top=True, right=True, pad=6)
    if i % 3 == 0:
        ax.tick_params(labelleft=False)
    for sp in ax.spines.values():
        sp.set_linewidth(1.0)
        sp.set_color("black")
    ax.set_xlabel("")
    ax.set_ylabel("")
    ax.set_title(title, fontsize=7.5, pad=10)

    # key: frameless legend for the samples, box drawn separately
    leg = ax.legend(loc="upper right", bbox_to_anchor=(0.878, 0.975), markerfirst=False,
                    frameon=False, fontsize=6, borderpad=0, labelspacing=0,
                    handlelength=1.0, handletextpad=2.2, borderaxespad=0)
    ax.add_patch(mpatches.Rectangle((0.685, 0.887), 0.272, 0.079, transform=ax.transAxes,
                                    fill=False, edgecolor="black", lw=1.0, zorder=5))

    if i == 2:
        ax.set_xlabel(r"m$_{\rm lightest}$(eV)", fontsize=7.5, ha="left", va="top")
        ax.xaxis.set_label_coords(0.874, -0.09)

fig.savefig("out.png", dpi=100)
